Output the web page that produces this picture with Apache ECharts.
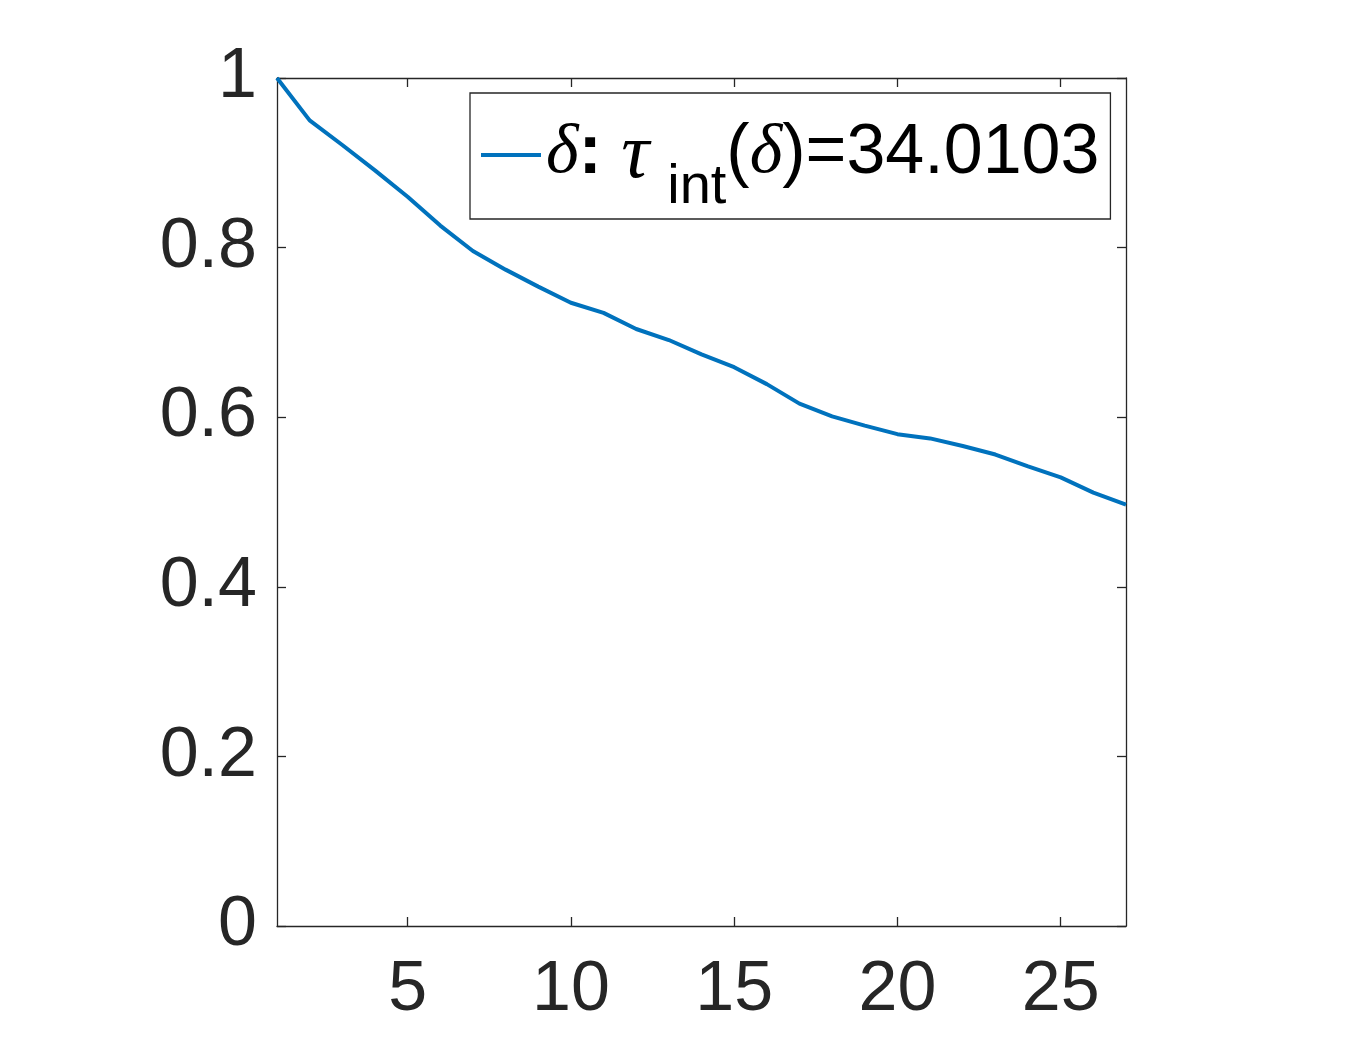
<!DOCTYPE html>
<html>
<head>
<meta charset="utf-8">
<script src="https://cdn.jsdelivr.net/npm/echarts@6/dist/echarts.min.js"></script>
<style>
  html, body { margin: 0; padding: 0; background: #fff; }
  #chart { width: 1356px; height: 1042px; }
</style>
</head>
<body>
<div id="chart"></div>
<script>
// lag steps and autocorrelation
var lags = [1, 2, 3, 4, 5, 6, 7, 8, 9, 10, 11, 12, 13, 14, 15, 16, 17, 18, 19, 20, 21, 22, 23, 24, 25, 26, 27];
var acf = [1.0, 0.950, 0.921, 0.891, 0.860, 0.826, 0.796, 0.774, 0.754, 0.735, 0.723, 0.704, 0.691, 0.674, 0.659,
  0.639, 0.616, 0.601, 0.590, 0.580, 0.575, 0.566, 0.556, 0.542, 0.529, 0.511, 0.497];
var xTicks = [5, 10, 15, 20, 25];
var seriesName = 'delta';

var axisColor = '#262626';
var sans = 'Liberation Sans, Arial, Helvetica, sans-serif';
var serif = 'Liberation Serif, Times New Roman, serif';

var points = lags.map(function (x, i) { return [x, acf[i]]; });

var chart = echarts.init(document.getElementById('chart'));

function xAxisCfg (pos, labels) {
  return {
    type: 'value',
    position: pos,
    min: 1,
    max: 27,
    axisLine: { show: true, onZero: false, lineStyle: { color: axisColor, width: 1.3 } },
    axisTick: { show: true, inside: true, length: 9, customValues: xTicks, lineStyle: { color: axisColor, width: 1.3 } },
    axisLabel: { show: labels, customValues: xTicks, color: axisColor, fontSize: 70, fontFamily: sans, margin: 30 },
    splitLine: { show: false }
  };
}

function yAxisCfg (pos, labels) {
  return {
    type: 'value',
    position: pos,
    min: 0,
    max: 1,
    interval: 0.2,
    axisLine: { show: true, onZero: false, lineStyle: { color: axisColor, width: 1.3 } },
    axisTick: { show: true, inside: true, length: 9, lineStyle: { color: axisColor, width: 1.3 } },
    axisLabel: { show: labels, color: axisColor, fontSize: 70, fontFamily: sans, margin: 20 },
    splitLine: { show: false }
  };
}

var option = {
  backgroundColor: '#fff',
  animation: false,
  grid: { left: 277, top: 78, right: 230, bottom: 116 },
  xAxis: [xAxisCfg('bottom', true), xAxisCfg('top', false)],
  yAxis: [yAxisCfg('left', true), yAxisCfg('right', false)],
  legend: {
    left: 470,
    top: 93,
    padding: [16, 11, 3, 11],
    borderColor: '#262626',
    borderWidth: 1.3,
    backgroundColor: '#fff',
    icon: 'rect',
    itemWidth: 60,
    itemHeight: 4,
    formatter: function () {
      return '{m|δ}{c|: }{t|τ}{s|int}{n|(}{m|δ}{n|)=34.0103}';
    },
    textStyle: {
      color: '#000',
      rich: {
        m: { fontFamily: serif, fontStyle: 'italic', fontSize: 70, color: '#000', lineHeight: 92, verticalAlign: 'top', padding: [10, 0, 0, 0] },
        t: { fontFamily: serif, fontStyle: 'italic', fontSize: 78, color: '#000', lineHeight: 92, verticalAlign: 'top', padding: [8, 18, 0, 0] },
        c: { fontFamily: sans, fontWeight: 'bold', fontSize: 70, color: '#000', lineHeight: 92, verticalAlign: 'top', padding: [10, 0, 0, 0] },
        n: { fontFamily: sans, fontSize: 70, color: '#000', lineHeight: 92, verticalAlign: 'top', padding: [10, 0, 0, 0] },
        s: { fontFamily: sans, fontSize: 56, color: '#000', lineHeight: 56, verticalAlign: 'top', padding: [51, 0, 0, 0] }
      }
    },
    data: [seriesName]
  },
  series: [{
    name: seriesName,
    type: 'line',
    xAxisIndex: 0,
    yAxisIndex: 0,
    symbol: 'none',
    data: points,
    lineStyle: { color: '#0072BD', width: 4 },
    itemStyle: { color: '#0072BD' }
  }]
};

chart.setOption(option);
</script>
</body>
</html>
